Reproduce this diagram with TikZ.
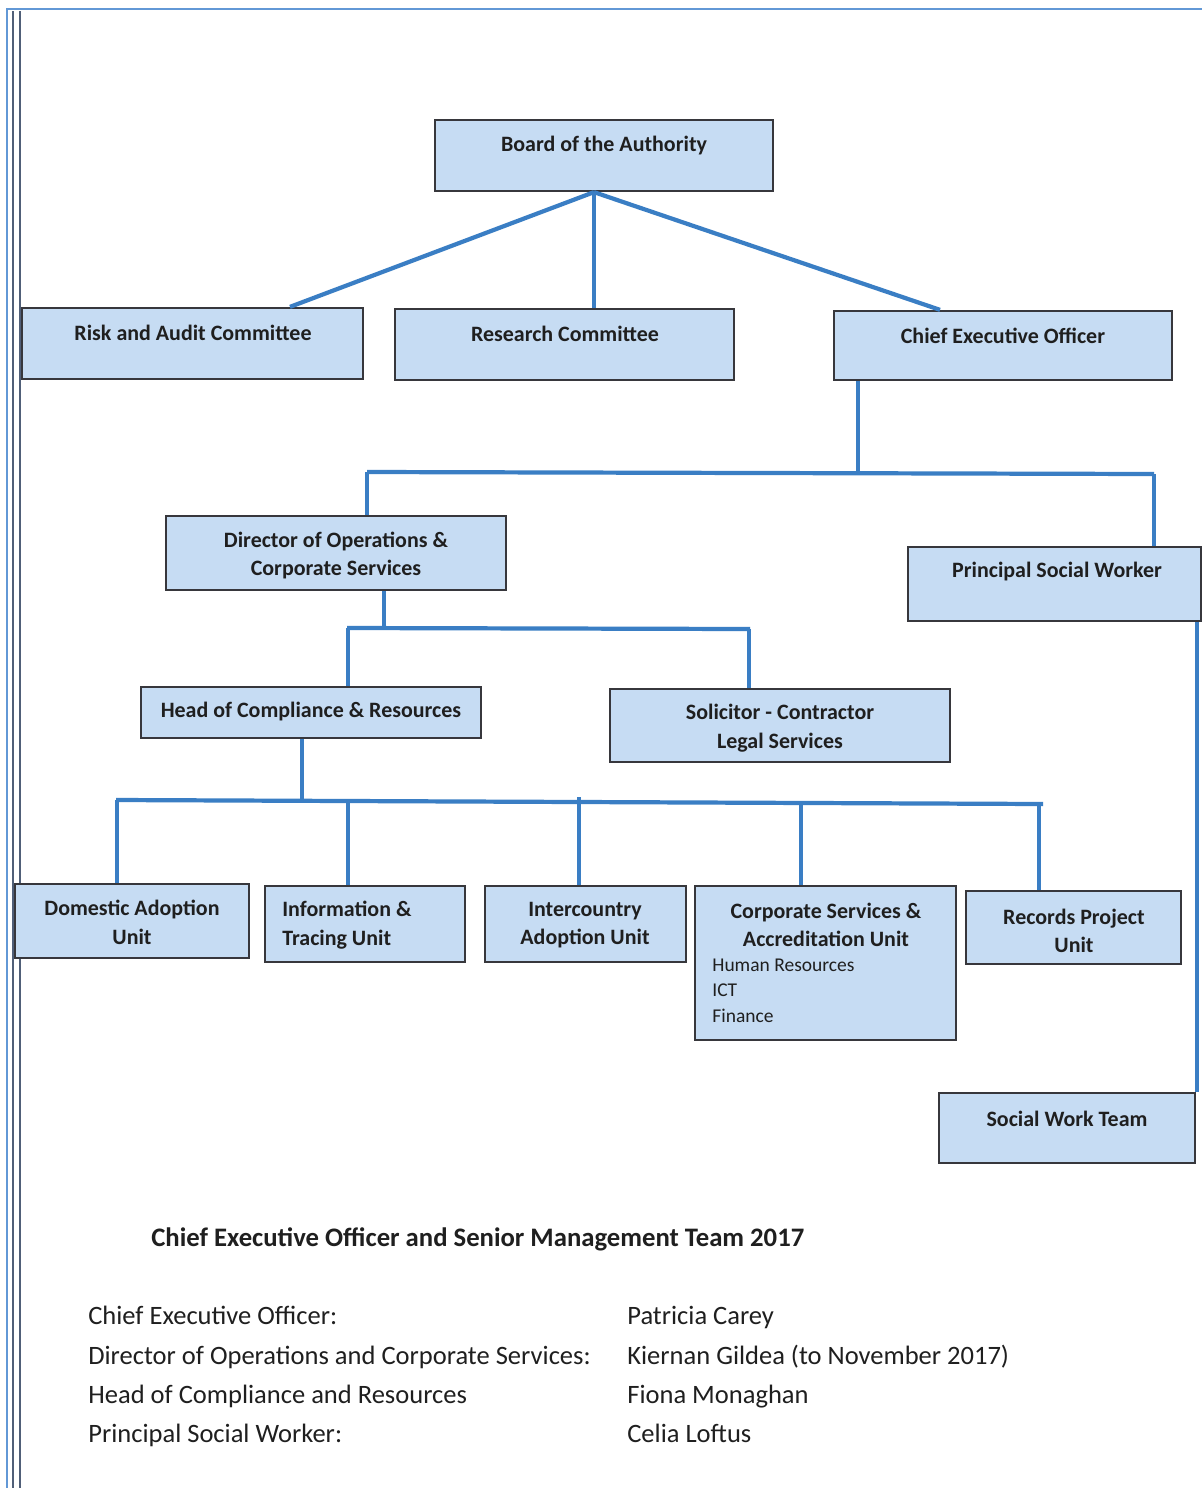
\documentclass[tikz,border=0pt]{standalone}
\usepackage{fontspec}
\setmainfont{Carlito}
\definecolor{boxfill}{RGB}{198,220,243}
\definecolor{boxline}{RGB}{55,55,60}
\definecolor{conncol}{RGB}{58,126,196}
\definecolor{pageblue}{RGB}{98,152,214}
\definecolor{pagegrey}{RGB}{80,95,120}
\tikzset{
  box/.style={draw=boxline, line width=1.3pt, fill=boxfill, rectangle, inner sep=0pt},
  lbl/.style={font=\fontsize{12.5}{16.2}\selectfont\bfseries, text=black!88, align=center, inner sep=0pt},
  sub/.style={font=\fontsize{11.1}{14}\selectfont, text=black!88, align=left, inner sep=0pt, anchor=base west},
  conn/.style={draw=conncol, line width=2.4pt},
  bodytext/.style={font=\fontsize{15.1}{18}\selectfont, text=black!88, anchor=base west, inner sep=0pt}
}
\begin{document}
\begin{tikzpicture}[x=0.02cm, y=-0.02cm]
\useasboundingbox (0,0) rectangle (1202,1488);
\fill[white] (0,0) rectangle (1202,1488);
% page border
\draw[pageblue, line width=1.2pt] (7,1488) -- (7,9) -- (1202,9);
\draw[pagegrey, line width=1.1pt] (13,11) -- (13,1488);
\draw[pagegrey, line width=1.1pt] (20,11) -- (20,1488);

% boxes
\node[box, minimum width=6.76cm, minimum height=1.42cm] (board) at (604,155.5) {};
\node[box, minimum width=6.82cm, minimum height=1.42cm] (risk) at (192.5,343.5) {};
\node[box, minimum width=6.78cm, minimum height=1.42cm] (research) at (564.5,344.5) {};
\node[box, minimum width=6.76cm, minimum height=1.38cm] (ceo) at (1003,345.5) {};
\node[box, minimum width=6.8cm, minimum height=1.48cm] (dir) at (336,553) {};
\node[box, minimum width=5.86cm, minimum height=1.48cm] (psw) at (1054.5,584) {};
\node[box, minimum width=6.8cm, minimum height=1.02cm] (head) at (311,712.5) {};
\node[box, minimum width=6.8cm, minimum height=1.46cm] (sol) at (780,725.5) {};
\node[box, minimum width=4.68cm, minimum height=1.48cm] (dom) at (132,921) {};
\node[box, minimum width=4.0cm, minimum height=1.52cm] (info) at (365,924) {};
\node[box, minimum width=4.02cm, minimum height=1.52cm] (inter) at (585.5,924) {};
\node[box, minimum width=5.22cm, minimum height=3.08cm] (corp) at (825.5,963) {};
\node[box, minimum width=4.3cm, minimum height=1.46cm] (rec) at (1073.5,927.5) {};
\node[box, minimum width=5.12cm, minimum height=1.4cm] (swt) at (1067,1128) {};

% labels
\node[lbl] (tboard) at (604,146) {Board of the Authority};
\node[lbl] (trisk) at (193,333) {Risk and Audit Committee};
\node[lbl] (tresearch) at (565,334) {Research Committee};
\node[lbl] (tceo) at (1003,336) {Chief Executive Officer};
\node[lbl] (tdir) at (336,555.5) {Director of Operations \&\\Corporate Services};
\node[lbl] (tpsw) at (1057,572) {Principal Social Worker};
\node[lbl] (thead) at (311,712) {Head of Compliance \& Resources};
\node[lbl] (tsol) at (780,728) {Solicitor - Contractor\\Legal Services};
\node[lbl] (tdom) at (132,922.5) {Domestic Adoption\\Unit};
\node[lbl, align=left, anchor=west] (tinfo) at (282,925) {Information \&\\Tracing Unit};
\node[lbl] (tinter) at (585,925) {Intercountry\\Adoption Unit};
\node[lbl] (tcorp) at (826,925) {Corporate Services \&\\Accreditation Unit};
\node[sub] (thr) at (712,971) {Human Resources};
\node[sub] (tict) at (712,996) {ICT};
\node[sub] (tfin) at (712,1022) {Finance};
\node[lbl] (trec) at (1074,931) {Records Project\\Unit};
\node[lbl] (tswt) at (1067,1119) {Social Work Team};

% connectors: board
\draw[conn] (594,0 |- board.south) -- (290,0 |- risk.north);
\draw[conn] (594,0 |- board.south) -- (594,0 |- research.north);
\draw[conn] (594,0 |- board.south) -- (940,0 |- ceo.north);
% ceo level
\coordinate (j1) at (858,472);
\draw[conn] (858,0 |- ceo.south) -- (j1);
\draw[conn] (367,472) -- (1154,474);
\draw[conn] (367,472) -- (367,0 |- dir.north);
\draw[conn] (1154,474) -- (1154,0 |- psw.north);
% director level
\coordinate (j2) at (384,628);
\draw[conn] (384,0 |- dir.south) -- (j2);
\draw[conn] (347,628) -- (750,629);
\draw[conn] (348,628) -- (348,0 |- head.north);
\draw[conn] (749,629) -- (749,0 |- sol.north);
% head level
\coordinate (j3) at (302,800);
\draw[conn] (302,0 |- head.south) -- (j3);
\draw[conn] (116,800) -- (1043,804);
\draw[conn] (117,800) -- (117,0 |- dom.north);
\draw[conn] (348,801) -- (348,0 |- info.north);
\draw[conn] (579,797) -- (579,0 |- inter.north);
\draw[conn] (801,802) -- (801,0 |- corp.north);
\draw[conn] (1039,803) -- (1039,0 |- rec.north);
% psw to social work team
\draw[conn] (1197,0 |- psw.south) -- (1197,0 |- swt.north);

% bottom text
\node[font=\fontsize{15.2}{18}\selectfont\bfseries, text=black!88, anchor=base west, inner sep=0pt] (title) at (151,1246) {Chief Executive Officer and Senior Management Team 2017};
\node[bodytext] (l1) at (88,1324) {Chief Executive Officer:};
\node[bodytext] (l2) at (88,1364) {Director of Operations and Corporate Services:};
\node[bodytext] (l3) at (88,1403) {Head of Compliance and Resources};
\node[bodytext] (l4) at (88,1442) {Principal Social Worker:};
\node[bodytext] (r1) at (627,1324) {Patricia Carey};
\node[bodytext] (r2) at (627,1364) {Kiernan Gildea (to November 2017)};
\node[bodytext] (r3) at (627,1403) {Fiona Monaghan};
\node[bodytext] (r4) at (627,1442) {Celia Loftus};
\end{tikzpicture}
\end{document}
